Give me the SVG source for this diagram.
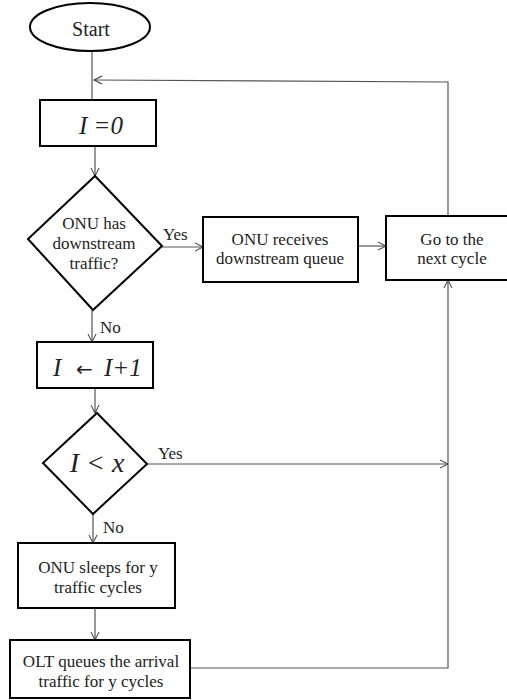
<svg xmlns="http://www.w3.org/2000/svg" width="507" height="700" viewBox="0 0 507 700">
<style>
.n{fill:#fff;stroke:#000;stroke-width:2}
.c{fill:none;stroke:#555;stroke-width:1.2}
text{font-family:'Liberation Serif',Tinos,'Times New Roman',Times,serif;fill:#222}
.t{font-size:17px;text-anchor:middle}
.m{font-style:italic;text-anchor:middle}
.l{font-size:17px}
</style>
<defs>
<marker id="a" markerWidth="10" markerHeight="10" refX="9" refY="5" orient="auto" markerUnits="userSpaceOnUse">
<path d="M1,1 L9,5 L1,9" fill="none" stroke="#333" stroke-width="1"/>
</marker>
</defs>
<rect width="507" height="700" fill="#fff"/>
<g id="connectors">
<line class="c" x1="92" y1="51" x2="92" y2="100"/>
<polyline class="c" points="448,216 448,82 94,80" marker-end="url(#a)"/>
<line class="c" x1="95" y1="146" x2="95" y2="176" marker-end="url(#a)"/>
<line class="c" x1="162" y1="247" x2="203" y2="247" marker-end="url(#a)"/>
<text class="l" x="163" y="240">Yes</text>
<line class="c" x1="358" y1="246" x2="386" y2="246" marker-end="url(#a)"/>
<line class="c" x1="92" y1="310" x2="92" y2="342" marker-end="url(#a)"/>
<text class="l" x="100" y="333">No</text>
<line class="c" x1="95" y1="388" x2="95" y2="413" marker-end="url(#a)"/>
<line class="c" x1="147" y1="464" x2="448" y2="464" marker-end="url(#a)"/>
<text class="l" x="158" y="459">Yes</text>
<line class="c" x1="93" y1="514" x2="93" y2="543" marker-end="url(#a)"/>
<text class="l" x="103" y="533">No</text>
<line class="c" x1="95" y1="608" x2="95" y2="640" marker-end="url(#a)"/>
<polyline class="c" points="190,668 448,668 448,280" marker-end="url(#a)"/>
</g>
<g id="start">
<ellipse class="n" cx="90" cy="27" rx="60" ry="24"/>
<text class="t" x="91" y="36" style="font-size:20px">Start</text>
</g>
<g id="init">
<rect class="n" x="40" y="100" width="116" height="46"/>
<text class="m" x="101" y="134" style="font-size:25px">I =0</text>
</g>
<g id="dec1">
<polygon class="n" points="95,176 162,246 93,310 28,239"/>
<text class="t" x="94" y="229">ONU has</text>
<text class="t" x="94" y="249">downstream</text>
<text class="t" x="94" y="269">traffic?</text>
</g>
<g id="receive">
<rect class="n" x="203" y="217" width="155" height="65"/>
<text class="t" x="280" y="245">ONU receives</text>
<text class="t" x="280" y="264">downstream queue</text>
</g>
<g id="next">
<rect class="n" x="386" y="216" width="130" height="64"/>
<text class="t" x="452" y="245">Go to the</text>
<text class="t" x="452" y="264">next cycle</text>
</g>
<g id="incr">
<rect class="n" x="37" y="342" width="116" height="46"/>
<text x="53" y="376" style="font-size:25px;font-style:italic">I<tspan x="76" style="font-family:'DejaVu Sans',sans-serif;font-style:normal;font-size:20px">←</tspan><tspan x="104">I+1</tspan></text>
</g>
<g id="dec2">
<polygon class="n" points="97,413 147,464 93,514 43,463"/>
<text class="m" x="97" y="472" style="font-size:28px">I &lt; x</text>
</g>
<g id="sleep">
<rect class="n" x="18" y="543" width="157" height="65"/>
<text class="t" x="98" y="573">ONU sleeps for y</text>
<text class="t" x="98" y="593">traffic cycles</text>
</g>
<g id="olt">
<rect class="n" x="10" y="640" width="180" height="58"/>
<text class="t" x="101" y="667">OLT queues the arrival</text>
<text class="t" x="101" y="687">traffic for y cycles</text>
</g>
</svg>
